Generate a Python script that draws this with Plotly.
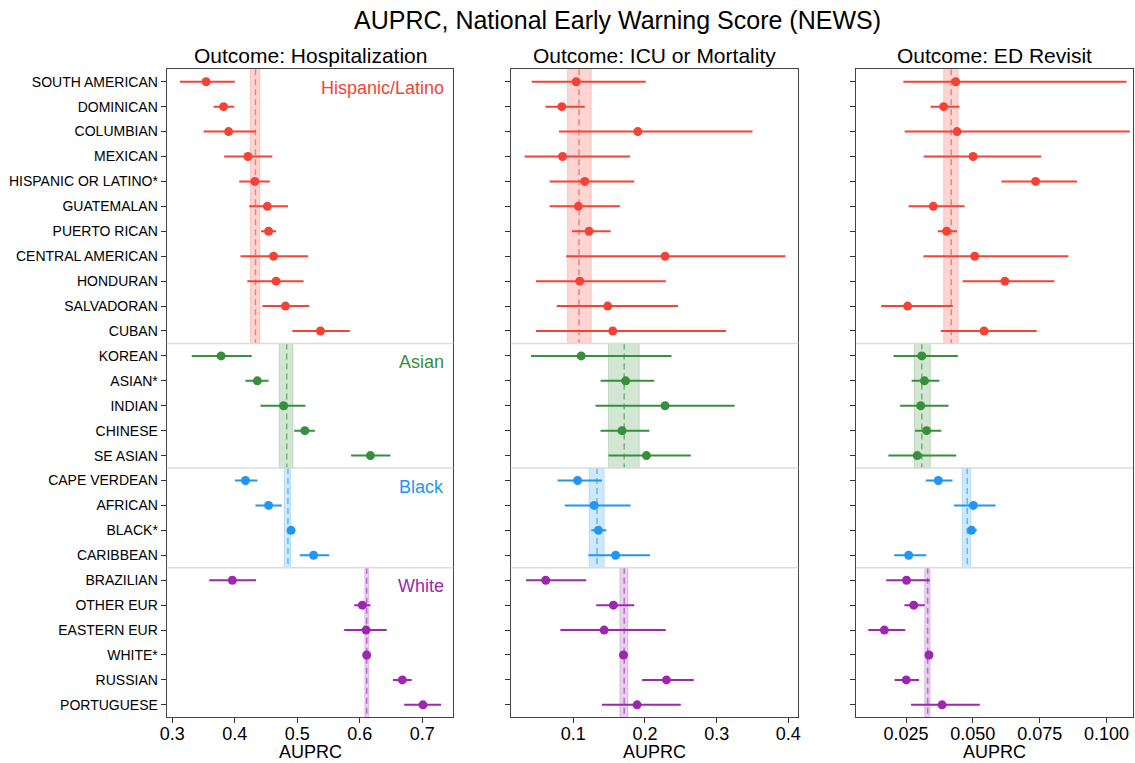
import plotly.graph_objects as go

# Subgroup labels, top to bottom
labels = ['SOUTH AMERICAN', 'DOMINICAN', 'COLUMBIAN', 'MEXICAN', 'HISPANIC OR LATINO*',
          'GUATEMALAN', 'PUERTO RICAN', 'CENTRAL AMERICAN', 'HONDURAN', 'SALVADORAN', 'CUBAN',
          'KOREAN', 'ASIAN*', 'INDIAN', 'CHINESE', 'SE ASIAN',
          'CAPE VERDEAN', 'AFRICAN', 'BLACK*', 'CARIBBEAN',
          'BRAZILIAN', 'OTHER EUR', 'EASTERN EUR', 'WHITE*', 'RUSSIAN', 'PORTUGUESE']
groups = ['Hispanic/Latino', 'Asian', 'Black', 'White']
group_sizes = [11, 5, 4, 6]
group_colors = ['#F44336', '#388E3C', '#2196F3', '#9C27B0']
group_fills = ['rgba(244,67,54,0.22)', 'rgba(56,142,60,0.22)',
               'rgba(33,150,243,0.22)', 'rgba(156,39,176,0.22)']

outcomes = ['Outcome: Hospitalization', 'Outcome: ICU or Mortality', 'Outcome: ED Revisit']

# Outcome: Hospitalization
hosp_est = [0.354, 0.382, 0.390, 0.421, 0.432, 0.452, 0.454, 0.462, 0.466, 0.481, 0.537,
            0.378, 0.436, 0.478, 0.512, 0.617,
            0.417, 0.454, 0.490, 0.526,
            0.396, 0.604, 0.610, 0.611, 0.668, 0.701]
hosp_lo = [0.312, 0.366, 0.350, 0.383, 0.407, 0.423, 0.442, 0.409, 0.420, 0.444, 0.492,
           0.331, 0.417, 0.441, 0.495, 0.586,
           0.400, 0.433, 0.488, 0.504,
           0.359, 0.591, 0.575, 0.609, 0.653, 0.671]
hosp_hi = [0.400, 0.399, 0.433, 0.460, 0.456, 0.485, 0.466, 0.517, 0.510, 0.519, 0.584,
           0.427, 0.454, 0.513, 0.528, 0.649,
           0.436, 0.475, 0.492, 0.551,
           0.434, 0.617, 0.643, 0.613, 0.683, 0.730]
hosp_mean = [0.433, 0.483, 0.485, 0.611]
hosp_band_lo = [0.425, 0.471, 0.479, 0.608]
hosp_band_hi = [0.440, 0.493, 0.489, 0.614]

# Outcome: ICU or Mortality
icu_est = [0.104, 0.084, 0.190, 0.085, 0.116, 0.107, 0.122, 0.228, 0.109, 0.148, 0.155,
           0.111, 0.173, 0.228, 0.168, 0.202,
           0.106, 0.129, 0.135, 0.159,
           0.0615, 0.156, 0.143, 0.170, 0.230, 0.189]
icu_lo = [0.042, 0.061, 0.080, 0.032, 0.067, 0.067, 0.098, 0.090, 0.048, 0.077, 0.048,
          0.041, 0.138, 0.131, 0.138, 0.149,
          0.078, 0.088, 0.125, 0.121,
          0.034, 0.132, 0.082, 0.168, 0.196, 0.140]
icu_hi = [0.201, 0.116, 0.350, 0.179, 0.185, 0.165, 0.152, 0.396, 0.229, 0.246, 0.313,
          0.237, 0.213, 0.325, 0.206, 0.264,
          0.140, 0.180, 0.146, 0.207,
          0.118, 0.185, 0.229, 0.172, 0.268, 0.250]
icu_mean = [0.108, 0.171, 0.133, 0.171]
icu_band_lo = [0.092, 0.149, 0.122, 0.165]
icu_band_hi = [0.125, 0.192, 0.143, 0.176]

# Outcome: ED Revisit
ed_est = [0.0436, 0.0391, 0.0441, 0.0501, 0.0735, 0.0352, 0.0402, 0.0507, 0.0620, 0.0256, 0.0542,
          0.0309, 0.0319, 0.0305, 0.0327, 0.0292,
          0.0371, 0.0502, 0.0495, 0.0260,
          0.0252, 0.0279, 0.0169, 0.0336, 0.0251, 0.0385]
ed_lo = [0.0240, 0.0342, 0.0245, 0.0316, 0.0607, 0.0260, 0.0369, 0.0315, 0.0462, 0.0157, 0.0380,
         0.0203, 0.0271, 0.0228, 0.0284, 0.0184,
         0.0324, 0.0430, 0.0484, 0.0206,
         0.0176, 0.0244, 0.0109, 0.0333, 0.0207, 0.0269]
ed_hi = [0.1075, 0.0450, 0.1087, 0.0756, 0.0890, 0.0469, 0.0441, 0.0857, 0.0805, 0.0425, 0.0739,
         0.0444, 0.0375, 0.0409, 0.0382, 0.0438,
         0.0424, 0.0585, 0.0515, 0.0326,
         0.0339, 0.0320, 0.0247, 0.0339, 0.0299, 0.0526]
ed_mean = [0.0419, 0.0309, 0.0479, 0.0331]
ed_band_lo = [0.0391, 0.0281, 0.0460, 0.0320]
ed_band_hi = [0.0445, 0.0341, 0.0492, 0.0340]

panels = [
    (hosp_est, hosp_lo, hosp_hi, hosp_mean, hosp_band_lo, hosp_band_hi),
    (icu_est, icu_lo, icu_hi, icu_mean, icu_band_lo, icu_band_hi),
    (ed_est, ed_lo, ed_hi, ed_mean, ed_band_lo, ed_band_hi),
]
x_ranges = [[0.291, 0.7496], [0.0127, 0.414], [0.0063, 0.1099]]
x_ticks = [[0.3, 0.4, 0.5, 0.6, 0.7], [0.1, 0.2, 0.3, 0.4], [0.025, 0.05, 0.075, 0.1]]
x_fmt = ['.1f', '.1f', '.3f']
domains = [[0.1469, 0.3994], [0.4500, 0.7034], [0.7542, 0.9982]]

FONT = 'Arial, Liberation Sans, sans-serif'
fig = go.Figure()
shapes = []
annotations = []

starts = [sum(group_sizes[:g]) for g in range(len(group_sizes))]

for p, (est, lo, hi, mean, blo, bhi) in enumerate(panels):
    xa = 'x' if p == 0 else f'x{p + 1}'
    ya = 'y' if p == 0 else f'y{p + 1}'

    for g, size in enumerate(group_sizes):
        s = starts[g]
        e = s + size
        rows = list(range(s, e))
        # group mean band and dashed line
        shapes.append(dict(type='rect', xref=xa, yref=ya, x0=blo[g], x1=bhi[g],
                           y0=s - 0.5, y1=e - 0.5, fillcolor=group_fills[g],
                           line=dict(color=group_fills[g], width=1), layer='below'))
        shapes.append(dict(type='line', xref=xa, yref=ya, x0=mean[g], x1=mean[g],
                           y0=s - 0.5, y1=e - 0.5,
                           line=dict(color=group_colors[g], width=1.5, dash='6px,4px'),
                           opacity=0.6, layer='below'))
        fig.add_trace(go.Scatter(
            x=est[s:e], y=rows, mode='markers',
            marker=dict(color=group_colors[g], size=9),
            error_x=dict(type='data', symmetric=False,
                         array=[hi[i] - est[i] for i in rows],
                         arrayminus=[est[i] - lo[i] for i in rows],
                         color=group_colors[g], thickness=2, width=0),
            xaxis=xa, yaxis=ya, showlegend=False, hoverinfo='x+y'))

    # group separators
    for g in range(1, len(group_sizes)):
        yy = starts[g] - 0.5
        shapes.append(dict(type='line', xref=f'{xa} domain', yref=ya, x0=0, x1=1,
                           y0=yy, y1=yy, line=dict(color='#DCDCDC', width=1.5)))

    annotations.append(dict(text=outcomes[p], xref='paper', yref='paper',
                            x=sum(domains[p]) / 2, y=0.9092, xanchor='center',
                            yanchor='bottom', showarrow=False,
                            font=dict(size=21, color='black', family=FONT)))
    annotations.append(dict(text='AUPRC', xref='paper', yref='paper',
                            x=sum(domains[p]) / 2, y=1 - 752 / 763, xanchor='center',
                            yanchor='middle', showarrow=False,
                            font=dict(size=18, color='black', family=FONT)))

# group names in the first panel
for g in range(len(groups)):
    annotations.append(dict(text=groups[g], xref='x domain', yref='y', x=0.975,
                            y=starts[g] + 0.25, xanchor='right', yanchor='middle',
                            showarrow=False,
                            font=dict(size=18, color=group_colors[g], family=FONT)))

annotations.append(dict(text='AUPRC, National Early Warning Score (NEWS)', xref='paper',
                        yref='paper', x=618 / 1135, y=1 - 20 / 763, xanchor='center',
                        yanchor='middle', showarrow=False,
                        font=dict(size=25, color='black', family=FONT)))

layout = dict(
    width=1135, height=763,
    margin=dict(l=0, r=0, t=0, b=0, autoexpand=False),
    paper_bgcolor='white', plot_bgcolor='white',
    font=dict(family=FONT, color='black'),
    shapes=shapes, annotations=annotations,
)

for p in range(3):
    xkey = 'xaxis' if p == 0 else f'xaxis{p + 1}'
    ykey = 'yaxis' if p == 0 else f'yaxis{p + 1}'
    ya = 'y' if p == 0 else f'y{p + 1}'
    xa = 'x' if p == 0 else f'x{p + 1}'
    layout[xkey] = dict(
        domain=domains[p], anchor=ya, range=x_ranges[p], automargin=False,
        tickvals=x_ticks[p], tickformat=x_fmt[p],
        ticks='outside', ticklen=5, tickcolor='#333', tickfont=dict(size=18),
        ticklabelstandoff=-5,
        showgrid=False, zeroline=False,
        showline=True, linecolor='#444', linewidth=1.2, mirror=True,
    )
    layout[ykey] = dict(
        domain=[0.0599, 0.9092], anchor=xa, range=[25.5, -0.5], automargin=False,
        tickvals=list(range(len(labels))),
        ticktext=labels if p == 0 else [''] * len(labels),
        ticks='outside', ticklen=5, tickcolor='#333', tickfont=dict(size=14),
        showgrid=False, zeroline=False,
        showline=True, linecolor='#444', linewidth=1.2, mirror=True,
    )

fig.update_layout(**layout)
fig.write_html("out.html", config={'displayModeBar': False},
               post_script="document.body.style.margin='0';")
